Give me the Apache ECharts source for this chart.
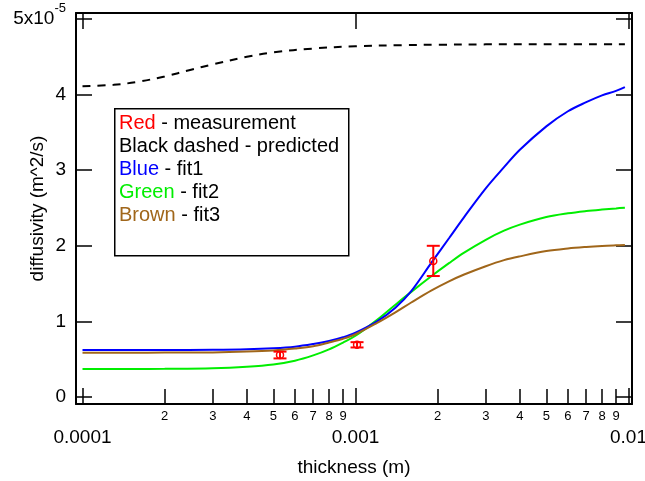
<!DOCTYPE html>
<html>
<head>
<meta charset="utf-8">
<script src="https://cdn.jsdelivr.net/npm/echarts@6/dist/echarts.min.js"></script>
<style>
  html, body { margin: 0; padding: 0; background: #ffffff; }
  #chart { width: 645px; height: 481px; }
</style>
</head>
<body>
<div id="chart"></div>
<script>
// Thickness (m) at which the fitted curves are sampled
const curveThickness = [0.0001, 0.00015, 0.0002, 0.0003, 0.0004, 0.0005, 0.0006, 0.0007, 0.0008, 0.0009,
  0.001, 0.0012, 0.0014, 0.0016, 0.0019, 0.0022, 0.0025, 0.003, 0.0035, 0.004,
  0.005, 0.006, 0.007, 0.008, 0.009, 0.0097];
// Diffusivity in units of 1e-5 m^2/s
const fit1 = [0.62, 0.62, 0.621, 0.625, 0.632, 0.645, 0.665, 0.70, 0.74, 0.79,
  0.85, 1.0, 1.18, 1.40, 1.78, 2.10, 2.38, 2.76, 3.04, 3.27,
  3.58, 3.78, 3.90, 3.99, 4.05, 4.10];
const fit2 = [0.37, 0.37, 0.372, 0.38, 0.40, 0.43, 0.48, 0.55, 0.63, 0.72,
  0.81, 1.02, 1.22, 1.39, 1.60, 1.77, 1.91, 2.08, 2.20, 2.28,
  2.38, 2.43, 2.46, 2.48, 2.495, 2.505];
const fit3 = [0.586, 0.586, 0.587, 0.59, 0.60, 0.615, 0.64, 0.67, 0.72, 0.77,
  0.83, 0.98, 1.12, 1.25, 1.41, 1.53, 1.62, 1.73, 1.81, 1.86,
  1.93, 1.965, 1.985, 1.998, 2.006, 2.01];

// Predicted curve (black dashed)
const predictedThickness = [0.0001, 0.00013, 0.00016, 0.0002, 0.00025, 0.0003, 0.0004, 0.0005, 0.0007,
  0.001, 0.0015, 0.002, 0.003, 0.005, 0.0097];
const predicted = [4.11, 4.13, 4.17, 4.24, 4.33, 4.40, 4.50, 4.56, 4.61,
  4.64, 4.655, 4.66, 4.665, 4.667, 4.667];

// Measurements with error bars
const measThickness = [0.000529, 0.001013, 0.001927];
const measValue = [0.555, 0.69, 1.80];
const measError = [0.045, 0.035, 0.20];

// Axis ticks
const majorTicks = [0.0001, 0.001, 0.01];
const majorLabels = ['0.0001', '0.001', '0.01'];
const minorDigits = [2, 3, 4, 5, 6, 7, 8, 9];
const yTicks = [0, 1, 2, 3, 4, 5];

const lg = Math.log10;
const X_MIN = -4.0238, X_MAX = -1.9872;
const Y_MIN = -0.093, Y_MAX = 5.08;

const minorTicks = [];
[0.0001, 0.001].forEach(dec => minorDigits.forEach(d => minorTicks.push(d * dec)));
const majorLog = majorTicks.map(lg);
const minorLog = minorTicks.map(lg);

const FONT = 'Liberation Sans, Arial, Helvetica, sans-serif';
const BROWN = '#a0661a';
const GREEN = '#00ee00';
const LEGEND_SIZE = 20;

function curve(xs, ys) { return xs.map((x, i) => [lg(x), ys[i]]); }

function xAxisBase(position) {
  return {
    type: 'value', position: position, min: X_MIN, max: X_MAX, gridIndex: 0,
    splitLine: { show: false },
    axisLine: { show: false },
    axisLabel: { show: false },
    axisTick: { show: false }
  };
}

const xMajorBottom = Object.assign(xAxisBase('bottom'), {
  axisLine: { show: true, onZero: false, lineStyle: { color: '#000', width: 2 } },
  axisTick: { show: true, inside: true, length: 16, customValues: majorLog, lineStyle: { color: '#000', width: 1.5 } },
  axisLabel: {
    show: true, customValues: majorLog, margin: 24, fontSize: 19, color: '#000', fontFamily: FONT,
    formatter: v => majorLabels[majorLog.findIndex(m => Math.abs(m - v) < 1e-9)]
  },
  name: 'thickness (m)', nameLocation: 'middle', nameGap: 54, nameMoveOverlap: false,
  nameTextStyle: { fontSize: 19, color: '#000', fontFamily: FONT }
});
const xMinorBottom = Object.assign(xAxisBase('bottom'), {
  axisTick: { show: true, inside: true, length: 8, customValues: minorLog, lineStyle: { color: '#000', width: 1.5 } },
  axisLabel: {
    show: true, customValues: minorLog, margin: 6, fontSize: 13, color: '#000', fontFamily: FONT,
    formatter: v => String(Math.round(Math.pow(10, v - Math.floor(v + 1e-9))))
  }
});
const xMajorTop = Object.assign(xAxisBase('top'), {
  axisLine: { show: true, onZero: false, lineStyle: { color: '#000', width: 2 } },
  axisTick: { show: true, inside: true, length: 16, customValues: majorLog, lineStyle: { color: '#000', width: 1.5 } }
});
const xMinorTop = Object.assign(xAxisBase('top'), {
  axisTick: { show: true, inside: true, length: 8, customValues: minorLog, lineStyle: { color: '#000', width: 1.5 } }
});

const chart = echarts.init(document.getElementById('chart'), null, { renderer: 'canvas' });

function lineSeries(name, xs, ys, style, z) {
  return {
    name: name, type: 'line', xAxisIndex: 0, yAxisIndex: 0,
    data: curve(xs, ys), showSymbol: false, smooth: 0.35,
    lineStyle: style, z: z
  };
}

chart.setOption({
  animation: false,
  backgroundColor: '#ffffff',
  grid: { left: 76, right: 13, top: 13, bottom: 77, containLabel: false, outerBoundsMode: 'none' },
  xAxis: [xMajorBottom, xMinorBottom, xMajorTop, xMinorTop],
  yAxis: [
    {
      type: 'value', position: 'left', min: Y_MIN, max: Y_MAX,
      splitLine: { show: false },
      axisLine: { show: true, onZero: false, lineStyle: { color: '#000', width: 2 } },
      axisTick: { show: true, inside: true, length: 16, customValues: yTicks, lineStyle: { color: '#000', width: 1.5 } },
      axisLabel: {
        customValues: yTicks, margin: 10, fontSize: 19, color: '#000', fontFamily: FONT,
        formatter: v => (Math.abs(v - 5) < 1e-9 ? '{a|5x10}{s|-5}' : String(Math.round(v))),
        rich: {
          a: { fontSize: 19, lineHeight: 34, color: '#000', fontFamily: FONT },
          s: { fontSize: 13, lineHeight: 13, verticalAlign: 'top', color: '#000', fontFamily: FONT }
        }
      },
      name: 'diffusivity (m^2/s)', nameLocation: 'middle', nameGap: 29, nameMoveOverlap: false,
      nameTextStyle: { fontSize: 19, color: '#000', fontFamily: FONT }
    },
    {
      type: 'value', position: 'right', min: Y_MIN, max: Y_MAX,
      splitLine: { show: false },
      axisLine: { show: true, onZero: false, lineStyle: { color: '#000', width: 2 } },
      axisTick: { show: true, inside: true, length: 16, customValues: yTicks, lineStyle: { color: '#000', width: 1.5 } },
      axisLabel: { show: false }
    }
  ],
  series: [
    lineSeries('predicted', predictedThickness, predicted, { color: '#000', width: 2, type: [8, 7] }, 3),
    lineSeries('fit2', curveThickness, fit2, { color: GREEN, width: 2 }, 3),
    lineSeries('fit3', curveThickness, fit3, { color: BROWN, width: 2 }, 4),
    lineSeries('fit1', curveThickness, fit1, { color: '#0000ff', width: 2 }, 3),
    {
      name: 'measurement', type: 'custom', xAxisIndex: 0, yAxisIndex: 0, z: 6,
      data: measThickness.map((t, i) => [lg(t), measValue[i], measValue[i] - measError[i], measValue[i] + measError[i]]),
      renderItem: (params, api) => {
        const c = api.coord([api.value(0), api.value(1)]);
        const lo = api.coord([api.value(0), api.value(2)]);
        const hi = api.coord([api.value(0), api.value(3)]);
        const cap = 6.5;
        const st = { stroke: '#ff0000', lineWidth: 2, fill: null };
        return {
          type: 'group',
          children: [
            { type: 'line', shape: { x1: c[0], y1: hi[1], x2: c[0], y2: lo[1] }, style: st },
            { type: 'line', shape: { x1: c[0] - cap, y1: hi[1], x2: c[0] + cap, y2: hi[1] }, style: st },
            { type: 'line', shape: { x1: c[0] - cap, y1: lo[1], x2: c[0] + cap, y2: lo[1] }, style: st },
            { type: 'circle', shape: { cx: c[0], cy: c[1], r: 3.5 }, style: { stroke: '#ff0000', lineWidth: 1.5, fill: 'rgba(0,0,0,0)' } }
          ]
        };
      }
    }
  ],
  graphic: [
    {
      type: 'rect', left: 114, top: 108, z: 10,
      shape: { width: 234, height: 147 },
      style: { fill: '#ffffff', stroke: '#000', lineWidth: 1.5 }
    },
    {
      type: 'text', left: 119, top: 113, z: 11,
      style: {
        text: '{r|Red}{k| - measurement}\n{k|Black dashed - predicted}\n{b|Blue}{k| - fit1}\n{g|Green}{k| - fit2}\n{w|Brown}{k| - fit3}',
        fontFamily: FONT, fontSize: LEGEND_SIZE,
        rich: {
          r: { fill: '#ff0000', fontSize: LEGEND_SIZE, lineHeight: 23, fontFamily: FONT },
          k: { fill: '#000000', fontSize: LEGEND_SIZE, lineHeight: 23, fontFamily: FONT },
          b: { fill: '#0000ff', fontSize: LEGEND_SIZE, lineHeight: 23, fontFamily: FONT },
          g: { fill: GREEN, fontSize: LEGEND_SIZE, lineHeight: 23, fontFamily: FONT },
          w: { fill: BROWN, fontSize: LEGEND_SIZE, lineHeight: 23, fontFamily: FONT }
        }
      }
    }
  ]
});
</script>
</body>
</html>
